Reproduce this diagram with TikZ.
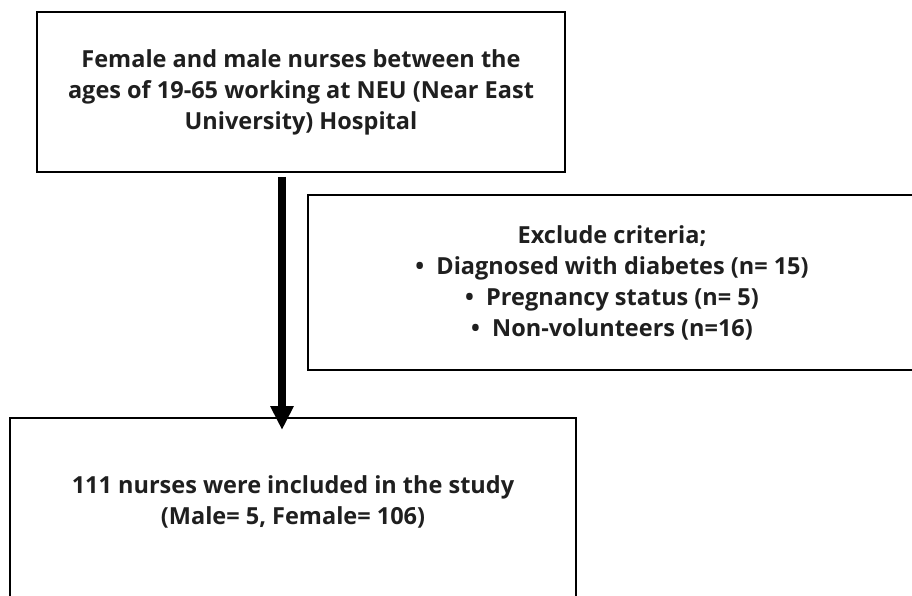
\documentclass[tikz,border=0pt]{standalone}
\usepackage{fontspec}
\setmainfont{Open Sans}
\usetikzlibrary{arrows.meta}
\begin{document}
\begin{tikzpicture}[x=1pt,y=-1pt,
  boxst/.style={draw=black,line width=2.6pt,inner sep=0pt,outer sep=0pt},
  txt/.style={align=center,font=\fontsize{23.5}{31}\selectfont\bfseries,text=black!88},
  arr/.style={line width=7.5pt,-{Triangle[width=22pt,length=24pt]}}]
\useasboundingbox (0,0) rectangle (912,596);
\clip (0,0) rectangle (912,596);
\fill[white] (0,0) rectangle (912,596);
\node[boxst,txt,minimum width=528pt,minimum height=160pt] (top) at (301,92)
  {Female and male nurses between the\\ ages of 19-65 working at NEU (Near East\\ University) Hospital};
\node[boxst,txt,minimum width=608pt,minimum height=175pt] (excl) at (612,282.5)
  {Exclude criteria;\\ \textbullet\ \ Diagnosed with diabetes (n= 15)\\ \textbullet\ \ Pregnancy status (n= 5)\\ \textbullet\ \ Non-volunteers (n=16)};
\node[boxst,minimum width=566pt,minimum height=200pt] (bot) at (293,518) {};
\node[txt] (bottxt) at (293,502) {111 nurses were included in the study\\ (Male= 5, Female= 106)};
\coordinate (A) at (282,300);
\draw[arr] (top.south -| A) ++(0,5) -- ([yshift=-12pt]bot.north -| A);
\end{tikzpicture}
\end{document}
